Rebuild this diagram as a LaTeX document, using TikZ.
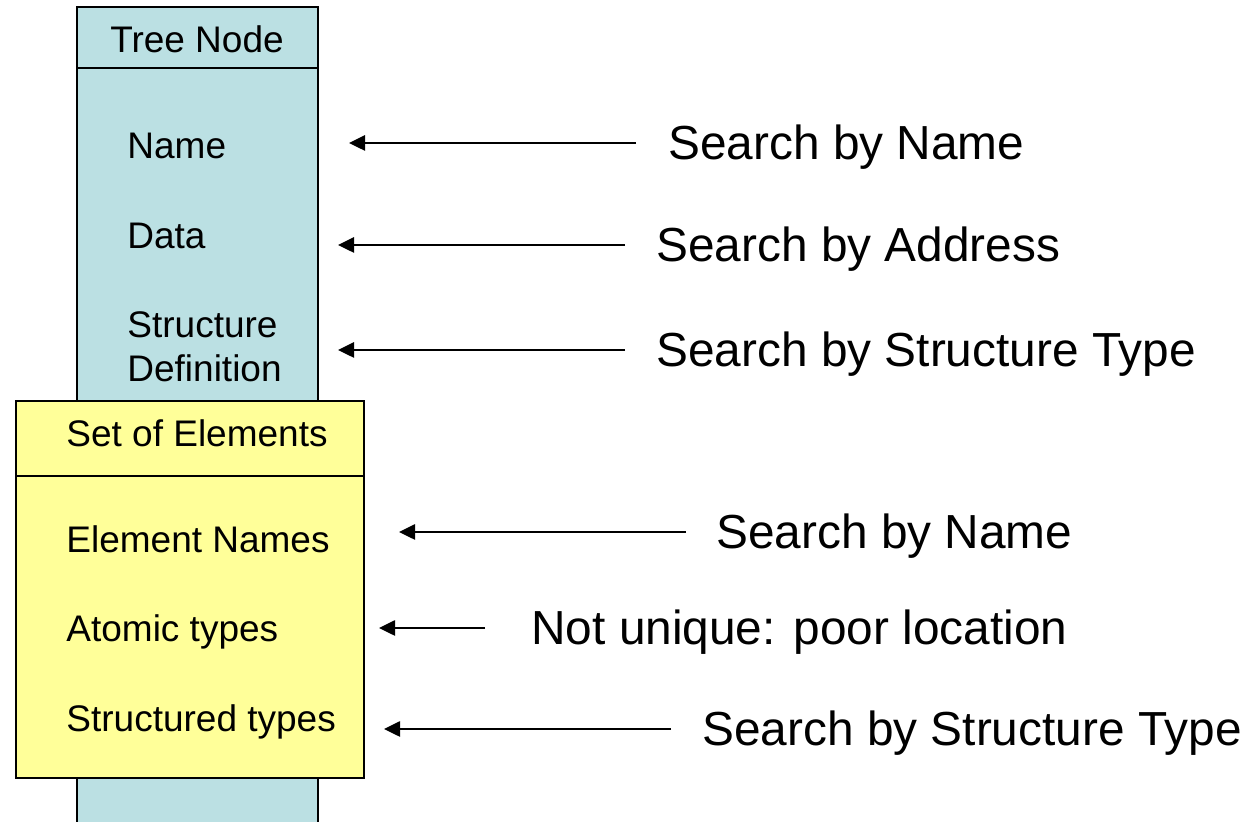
\documentclass[tikz,border=0pt]{standalone}
\usepackage{fontspec}
\setmainfont{Liberation Sans}
\usetikzlibrary{arrows.meta}
\definecolor{nodeblue}{RGB}{187,224,227}
\definecolor{setyellow}{RGB}{255,255,153}
\tikzset{
  boxtext/.style={anchor=base west, inner sep=0pt, font=\fontsize{18.5}{22}\selectfont},
  headtext/.style={anchor=base, inner sep=0pt, font=\fontsize{18.5}{22}\selectfont},
  searchtext/.style={anchor=base west, inner sep=0pt, font=\fontsize{23.9}{28}\selectfont},
  panel/.style={draw=black, line width=1pt},
  pointer/.style={line width=1.3pt, -{Triangle[length=8pt,width=7.5pt]}}
}
\begin{document}
\begin{tikzpicture}[x=0.5pt, y=-0.5pt]
  \clip (0,0) rectangle (1259,822);
  \fill[white] (0,0) rectangle (1259,822);

  % tree node record
  \draw[panel, fill=nodeblue] (77,7) rectangle (318,840);
  \draw[panel] (77,68) -- (318,68);
  \node[headtext] (treenode) at (197,53) {Tree Node};
  \node[boxtext] (name) at (127,159) {Name};
  \node[boxtext] (data) at (127,249) {Data};
  \node[boxtext] (structdef) at (127,338) {Structure};
  \node[boxtext] (structdef2) at (127,382) {Definition};

  % set of elements record
  \draw[panel, fill=setyellow] (16,401) rectangle (364,778);
  \draw[panel] (16,476) -- (364,476);
  \node[boxtext] (setel) at (66,447) {Set of Elements};
  \node[boxtext] (elnames) at (66,553) {Element Names};
  \node[boxtext] (atomic) at (66,642) {Atomic types};
  \node[boxtext] (structured) at (66,732) {Structured types};

  % search descriptions
  \node[searchtext] (s1) at (668,160) {Search by Name};
  \node[searchtext] (s2) at (656,262) {Search by Address};
  \node[searchtext] (s3) at (656,367) {Search by Structure Type};
  \node[searchtext] (s4) at (716,549) {Search by Name};
  \node[searchtext] (s5) at (531,645) {Not unique: poor location};
  \node[searchtext] (s6) at (702,746) {Search by Structure Type};

  % arrow ends
  \coordinate (a1) at (636,143); \coordinate (b1) at (349,143);
  \coordinate (a2) at (625,245); \coordinate (b2) at (338,245);
  \coordinate (a3) at (625,350); \coordinate (b3) at (338,350);
  \coordinate (a4) at (686,532); \coordinate (b4) at (399,532);
  \coordinate (a5) at (485,628); \coordinate (b5) at (379,628);
  \coordinate (a6) at (671,729); \coordinate (b6) at (384,729);

  \draw[pointer] (a1) -- (b1);
  \draw[pointer] (a2) -- (b2);
  \draw[pointer] (a3) -- (b3);
  \draw[pointer] (a4) -- (b4);
  \draw[pointer] (a5) -- (b5);
  \draw[pointer] (a6) -- (b6);
\end{tikzpicture}
\end{document}
